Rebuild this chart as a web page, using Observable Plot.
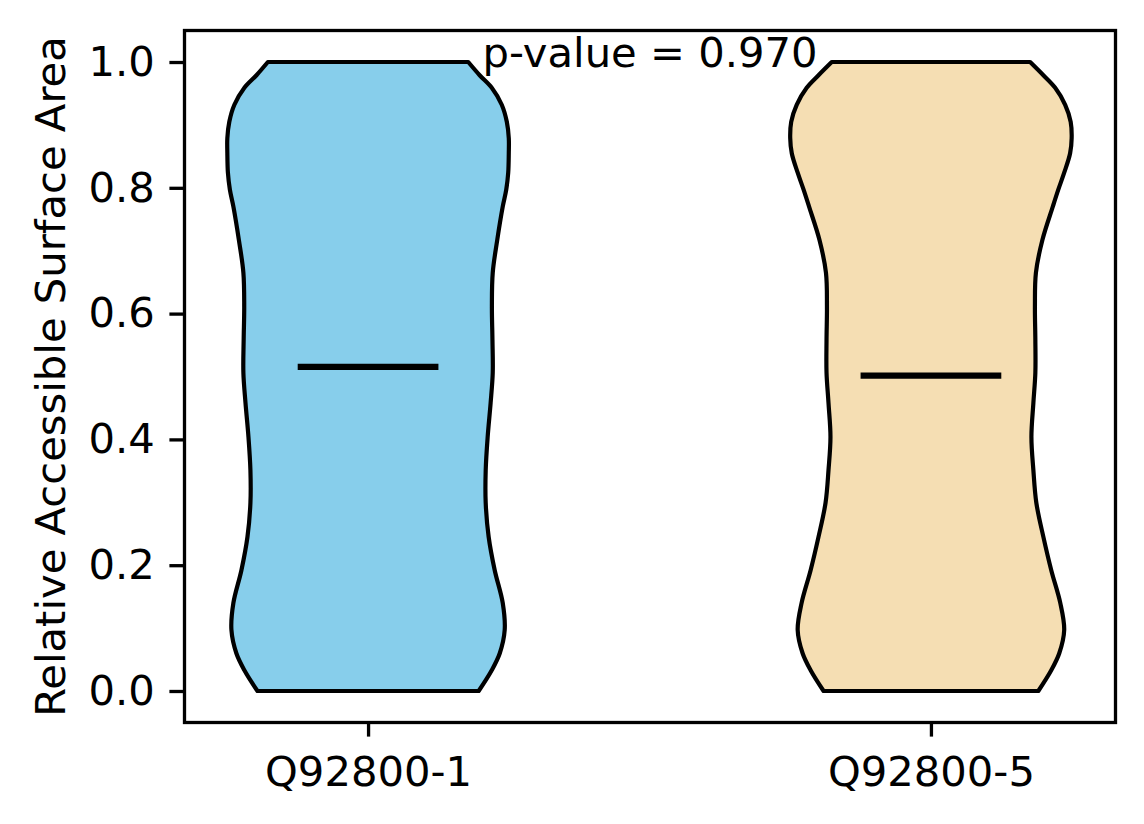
<!DOCTYPE html>
<html>
<head>
<meta charset="utf-8">
<script src="https://cdn.jsdelivr.net/npm/d3@7"></script>
<script src="https://cdn.jsdelivr.net/npm/@observablehq/plot@0.6"></script>
<style>
  html, body { margin: 0; padding: 0; background: white; overflow: hidden; }
</style>
</head>
<body>
<div id="chart"></div>
<script>
// ---- data ----
const categories = ["Q92800-1", "Q92800-5"];
const positions = [1, 2];
const fillColors = ["#87ceeb", "#f5deb3"];
const yLabel = "Relative Accessible Surface Area";
const yTicks = [0, 0.2, 0.4, 0.6, 0.8, 1.0];
const pValueText = "p-value = 0.970";
const pValueX = 1.5;
const pValueY = 1.0;

// KDE evaluation grid (relative accessible surface area)
const rsaGrid = [0, 0.033, 0.060, 0.097, 0.140, 0.192, 0.245, 0.299, 0.351, 0.404,
  0.458, 0.506, 0.558, 0.611, 0.665, 0.717, 0.770, 0.797, 0.824, 0.855,
  0.879, 0.905, 0.932, 0.959, 0.979, 1.0];
// relative density (max = 1) for each isoform
const densityQ1 = [0.786, 0.879, 0.936, 0.971, 0.957, 0.900, 0.857, 0.836, 0.836, 0.850,
  0.871, 0.886, 0.884, 0.880, 0.886, 0.918, 0.957, 0.982, 0.996, 1.000,
  1.000, 0.986, 0.950, 0.879, 0.793, 0.712];
const densityQ5 = [0.763, 0.855, 0.912, 0.947, 0.919, 0.855, 0.799, 0.749, 0.728, 0.714,
  0.728, 0.742, 0.742, 0.739, 0.746, 0.792, 0.866, 0.905, 0.947, 0.989,
  1.000, 0.993, 0.954, 0.883, 0.799, 0.705];
const medians = [0.516, 0.502];
const violinWidth = 0.5; // matplotlib default widths

// ---- build tables ----
const densities = [densityQ1, densityQ5];
const violinRows = [];
categories.forEach((cat, i) => {
  const dens = densities[i];
  const dmax = d3.max(dens);
  rsaGrid.forEach((v, j) => {
    violinRows.push({cat, pos: positions[i], fill: fillColors[i], v, half: dens[j] / dmax * violinWidth / 2});
  });
});
const medianRows = categories.map((cat, i) => ({cat, pos: positions[i], m: medians[i]}));

const FS = 41.7;

const chart = Plot.plot({
  width: 1144,
  height: 824,
  marginLeft: 184,
  marginRight: 29,
  marginTop: 30,
  marginBottom: 102,
  style: {fontFamily: "DejaVu Sans", fontSize: FS + "px", color: "black", background: "white"},
  x: {domain: [0.673, 2.327]},
  y: {domain: [-0.0493, 1.0509]},
  color: {type: "identity"},
  marks: [
    Plot.areaX(violinRows, {
      y: "v",
      x1: d => d.pos - d.half,
      x2: d => d.pos + d.half,
      z: "cat",
      fill: "fill",
      stroke: "black",
      strokeWidth: 4.2,
      strokeLinejoin: "round",
      curve: "catmull-rom"
    }),
    Plot.ruleY(medianRows, {
      y: "m",
      x1: d => d.pos - violinWidth / 4,
      x2: d => d.pos + violinWidth / 4,
      stroke: "black",
      strokeWidth: 6.25
    }),
    Plot.frame({stroke: "black", strokeWidth: 3.3}),
    Plot.axisY({
      ticks: yTicks,
      tickFormat: d3.format(".1f"),
      tickSize: 14.6,
      tickPadding: 15,
      strokeWidth: 3.3,
      fontSize: FS,
      label: null
    }),
    Plot.axisX({
      ticks: positions,
      tickFormat: p => categories[positions.indexOf(p)],
      tickSize: 14.6,
      tickPadding: 19,
      strokeWidth: 3.3,
      fontSize: FS,
      label: null
    }),
    Plot.text([yLabel], {
      text: d => d,
      frameAnchor: "left",
      dx: -120,
      rotate: -90,
      textAnchor: "middle",
      lineAnchor: "bottom",
      fontSize: FS,
      fill: "black"
    }),
    Plot.text([pValueText], {
      text: d => d,
      x: () => pValueX,
      y: () => pValueY,
      textAnchor: "middle",
      lineAnchor: "bottom",
      dy: 4,
      fontSize: FS,
      fill: "black"
    })
  ]
});
document.getElementById("chart").appendChild(chart);
</script>
</body>
</html>
